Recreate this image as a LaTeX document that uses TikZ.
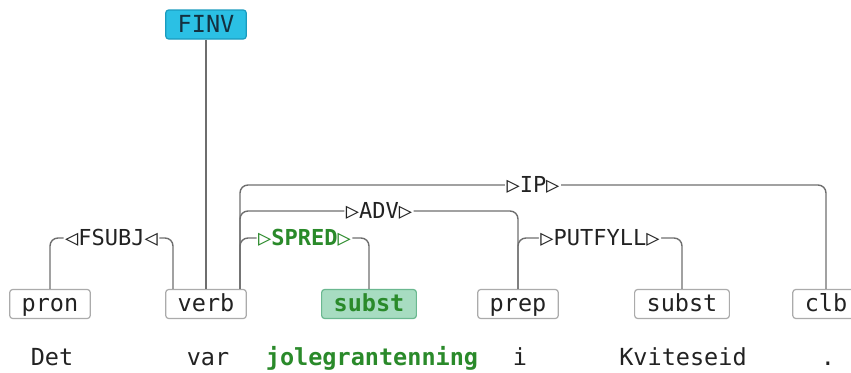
\documentclass[tikz,border=0pt]{standalone}
\usepackage{fontspec}
\setmonofont{DejaVu Sans Mono}
\definecolor{ln}{HTML}{6E6E6E}
\definecolor{bx}{HTML}{ABABAB}
\definecolor{tx}{HTML}{222222}
\definecolor{finv}{HTML}{2BC0E4}
\definecolor{finvd}{HTML}{1A9BBE}
\definecolor{finvt}{HTML}{14303F}
\definecolor{sg}{HTML}{A7DCC1}
\definecolor{sgd}{HTML}{6BB890}
\definecolor{gr}{HTML}{2A8A2A}

\begin{document}
\begin{tikzpicture}[
      x=1pt, y=-1pt,
      every node/.style={font=\ttfamily\fontsize{23.5}{24}\selectfont, text=tx},
      tok/.style={draw=bx, line width=1.2pt, rounded corners=3pt, fill=white,
                  text height=19pt, text depth=4pt, inner xsep=12pt, inner ysep=3pt},
      rel/.style={fill=white, inner sep=1.5pt, font=\ttfamily\fontsize{22}{22}\selectfont},
      arc/.style={draw=ln, line width=1.4pt, rounded corners=8pt}]

        \useasboundingbox (0,0) rectangle (851,372);

        % tags
        \node[tok] (pron) at (50,304) {pron};
        \node[tok] (verb) at (206,304) {verb};
        \node[tok, fill=sg, draw=sgd, text=gr,
              font=\ttfamily\bfseries\fontsize{23.5}{24}\selectfont] (subst1) at (369,304) {subst};
        \node[tok] (prep) at (518,304) {prep};
        \node[tok] (subst2) at (682,304) {subst};
        \node[tok] (clb) at (826,304) {clb};

        % words
        \node[anchor=base] (det) at (52,365) {Det};
        \node[anchor=base] (var) at (208,365) {var};
        \node[anchor=base, text=gr,
              font=\ttfamily\bfseries\fontsize{23.5}{24}\selectfont] (jule) at (372,365) {jolegrantenning};
        \node[anchor=base] (i) at (520,365) {i};
        \node[anchor=base] (kvit) at (683,365) {Kviteseid};
        \node[anchor=base] (dot) at (828,365) {.};

        % root
        \node[tok, fill=finv, draw=finvd, text=finvt] (finv) at (206,24.5) {FINV};
        \draw[arc] (finv.south) -- (verb.north);

        \coordinate (verbL) at ([xshift=-33pt]verb.north);
        \coordinate (verbR) at ([xshift=34pt]verb.north);
        \coordinate (lvA) at (0,238);
        \coordinate (lvB) at (0,211);
        \coordinate (lvC) at (0,185);

        % FSUBJ
        \draw[arc] (pron.north) -- (pron.north |- lvA)
          -- node[rel] {◁FSUBJ◁} (verbL |- lvA) -- (verbL);
        % SPRED
        \draw[arc] (verbR) -- (verbR |- lvA)
          -- node[rel, text=gr, font=\ttfamily\bfseries\fontsize{22}{22}\selectfont] {▷SPRED▷}
             (subst1.north |- lvA) -- (subst1.north);
        % ADV
        \draw[arc] (verbR) -- (verbR |- lvB)
          -- node[rel] {▷ADV▷} (prep.north |- lvB) -- (prep.north);
        % PUTFYLL
        \draw[arc] (prep.north) -- (prep.north |- lvA)
          -- node[rel] {▷PUTFYLL▷} (subst2.north |- lvA) -- (subst2.north);
        % IP
        \draw[arc] (verbR) -- (verbR |- lvC)
          -- node[rel] {▷IP▷} (clb.north |- lvC) -- (clb.north);

      \end{tikzpicture}
\end{document}
